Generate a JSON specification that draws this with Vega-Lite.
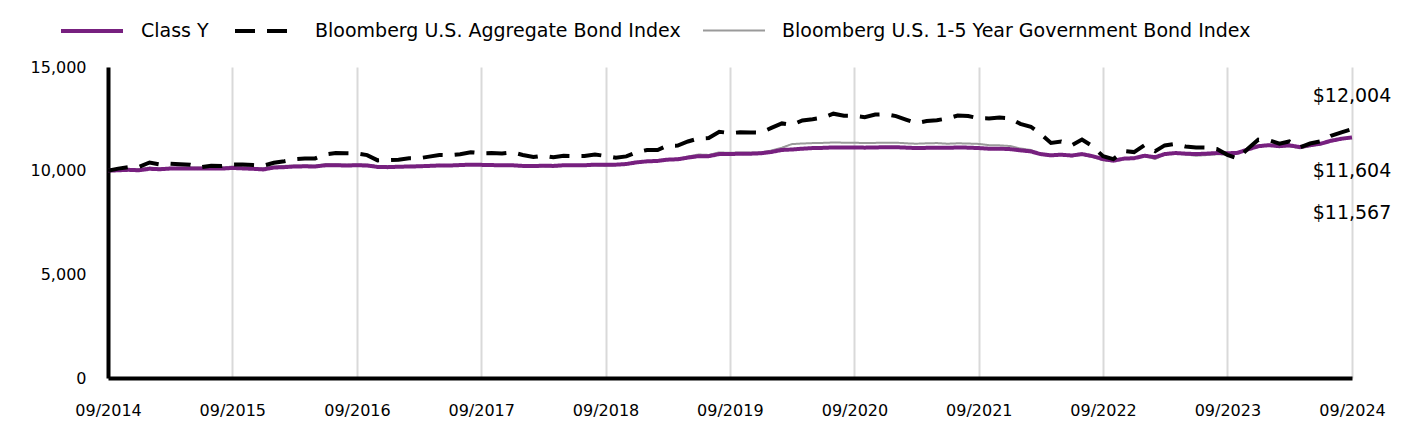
{
  "$schema": "https://vega.github.io/schema/vega-lite/v6.json",
  "width": 1244,
  "height": 311,
  "autosize": {"type": "none"},
  "padding": {"left": 108, "top": 67, "right": 64, "bottom": 66},
  "background": "white",
  "config": {"view": {"stroke": null}, "font": "DejaVu Sans", "text": {"font": "DejaVu Sans"}},
  "data": {"values": [
    {"d":"2014-09-01","cy":10000,"agg":10000,"gov":10000},
    {"d":"2014-10-01","cy":10020,"agg":10098,"gov":10040},
    {"d":"2014-11-01","cy":10040,"agg":10170,"gov":10080},
    {"d":"2014-12-01","cy":10020,"agg":10179,"gov":10070},
    {"d":"2015-01-01","cy":10090,"agg":10393,"gov":10150},
    {"d":"2015-02-01","cy":10070,"agg":10295,"gov":10110},
    {"d":"2015-03-01","cy":10100,"agg":10342,"gov":10140},
    {"d":"2015-04-01","cy":10110,"agg":10305,"gov":10150},
    {"d":"2015-05-01","cy":10110,"agg":10280,"gov":10160},
    {"d":"2015-06-01","cy":10100,"agg":10168,"gov":10150},
    {"d":"2015-07-01","cy":10110,"agg":10239,"gov":10160},
    {"d":"2015-08-01","cy":10100,"agg":10225,"gov":10150},
    {"d":"2015-09-01","cy":10130,"agg":10295,"gov":10200},
    {"d":"2015-10-01","cy":10110,"agg":10297,"gov":10170},
    {"d":"2015-11-01","cy":10090,"agg":10270,"gov":10130},
    {"d":"2015-12-01","cy":10060,"agg":10237,"gov":10110},
    {"d":"2016-01-01","cy":10150,"agg":10378,"gov":10200},
    {"d":"2016-02-01","cy":10170,"agg":10452,"gov":10230},
    {"d":"2016-03-01","cy":10200,"agg":10548,"gov":10250},
    {"d":"2016-04-01","cy":10210,"agg":10588,"gov":10250},
    {"d":"2016-05-01","cy":10200,"agg":10591,"gov":10240},
    {"d":"2016-06-01","cy":10260,"agg":10782,"gov":10320},
    {"d":"2016-07-01","cy":10260,"agg":10850,"gov":10310},
    {"d":"2016-08-01","cy":10250,"agg":10838,"gov":10290},
    {"d":"2016-09-01","cy":10260,"agg":10832,"gov":10300},
    {"d":"2016-10-01","cy":10250,"agg":10750,"gov":10290},
    {"d":"2016-11-01","cy":10180,"agg":10495,"gov":10210},
    {"d":"2016-12-01","cy":10170,"agg":10510,"gov":10210},
    {"d":"2017-01-01","cy":10190,"agg":10531,"gov":10220},
    {"d":"2017-02-01","cy":10200,"agg":10601,"gov":10230},
    {"d":"2017-03-01","cy":10210,"agg":10596,"gov":10240},
    {"d":"2017-04-01","cy":10230,"agg":10678,"gov":10260},
    {"d":"2017-05-01","cy":10250,"agg":10760,"gov":10280},
    {"d":"2017-06-01","cy":10250,"agg":10749,"gov":10270},
    {"d":"2017-07-01","cy":10270,"agg":10795,"gov":10290},
    {"d":"2017-08-01","cy":10290,"agg":10892,"gov":10320},
    {"d":"2017-09-01","cy":10280,"agg":10840,"gov":10290},
    {"d":"2017-10-01","cy":10270,"agg":10847,"gov":10280},
    {"d":"2017-11-01","cy":10260,"agg":10833,"gov":10250},
    {"d":"2017-12-01","cy":10260,"agg":10883,"gov":10250},
    {"d":"2018-01-01","cy":10230,"agg":10758,"gov":10200},
    {"d":"2018-02-01","cy":10220,"agg":10656,"gov":10190},
    {"d":"2018-03-01","cy":10240,"agg":10724,"gov":10210},
    {"d":"2018-04-01","cy":10230,"agg":10644,"gov":10190},
    {"d":"2018-05-01","cy":10260,"agg":10720,"gov":10230},
    {"d":"2018-06-01","cy":10260,"agg":10707,"gov":10230},
    {"d":"2018-07-01","cy":10260,"agg":10709,"gov":10220},
    {"d":"2018-08-01","cy":10290,"agg":10778,"gov":10260},
    {"d":"2018-09-01","cy":10280,"agg":10709,"gov":10240},
    {"d":"2018-10-01","cy":10290,"agg":10624,"gov":10260},
    {"d":"2018-11-01","cy":10320,"agg":10688,"gov":10300},
    {"d":"2018-12-01","cy":10400,"agg":10885,"gov":10420},
    {"d":"2019-01-01","cy":10450,"agg":11000,"gov":10460},
    {"d":"2019-02-01","cy":10470,"agg":10993,"gov":10470},
    {"d":"2019-03-01","cy":10530,"agg":11204,"gov":10550},
    {"d":"2019-04-01","cy":10550,"agg":11208,"gov":10560},
    {"d":"2019-05-01","cy":10630,"agg":11407,"gov":10680},
    {"d":"2019-06-01","cy":10700,"agg":11551,"gov":10780},
    {"d":"2019-07-01","cy":10700,"agg":11576,"gov":10760},
    {"d":"2019-08-01","cy":10800,"agg":11876,"gov":10880},
    {"d":"2019-09-01","cy":10800,"agg":11813,"gov":10860},
    {"d":"2019-10-01","cy":10820,"agg":11849,"gov":10880},
    {"d":"2019-11-01","cy":10820,"agg":11843,"gov":10870},
    {"d":"2019-12-01","cy":10840,"agg":11835,"gov":10880},
    {"d":"2020-01-01","cy":10900,"agg":12062,"gov":10970},
    {"d":"2020-02-01","cy":11000,"agg":12279,"gov":11110},
    {"d":"2020-03-01","cy":11020,"agg":12207,"gov":11280},
    {"d":"2020-04-01","cy":11060,"agg":12424,"gov":11310},
    {"d":"2020-05-01","cy":11090,"agg":12483,"gov":11330},
    {"d":"2020-06-01","cy":11100,"agg":12561,"gov":11340},
    {"d":"2020-07-01","cy":11120,"agg":12748,"gov":11360},
    {"d":"2020-08-01","cy":11120,"agg":12645,"gov":11350},
    {"d":"2020-09-01","cy":11120,"agg":12639,"gov":11350},
    {"d":"2020-10-01","cy":11110,"agg":12582,"gov":11330},
    {"d":"2020-11-01","cy":11120,"agg":12705,"gov":11340},
    {"d":"2020-12-01","cy":11130,"agg":12723,"gov":11350},
    {"d":"2021-01-01","cy":11130,"agg":12631,"gov":11350},
    {"d":"2021-02-01","cy":11110,"agg":12449,"gov":11320},
    {"d":"2021-03-01","cy":11090,"agg":12294,"gov":11300},
    {"d":"2021-04-01","cy":11100,"agg":12391,"gov":11320},
    {"d":"2021-05-01","cy":11110,"agg":12432,"gov":11330},
    {"d":"2021-06-01","cy":11100,"agg":12519,"gov":11300},
    {"d":"2021-07-01","cy":11120,"agg":12659,"gov":11320},
    {"d":"2021-08-01","cy":11110,"agg":12635,"gov":11310},
    {"d":"2021-09-01","cy":11090,"agg":12525,"gov":11290},
    {"d":"2021-10-01","cy":11060,"agg":12521,"gov":11230},
    {"d":"2021-11-01","cy":11060,"agg":12559,"gov":11220},
    {"d":"2021-12-01","cy":11040,"agg":12526,"gov":11190},
    {"d":"2022-01-01","cy":10980,"agg":12257,"gov":11070},
    {"d":"2022-02-01","cy":10930,"agg":12120,"gov":11000},
    {"d":"2022-03-01","cy":10800,"agg":11783,"gov":10780},
    {"d":"2022-04-01","cy":10740,"agg":11336,"gov":10700},
    {"d":"2022-05-01","cy":10770,"agg":11409,"gov":10770},
    {"d":"2022-06-01","cy":10730,"agg":11230,"gov":10690},
    {"d":"2022-07-01","cy":10800,"agg":11504,"gov":10780},
    {"d":"2022-08-01","cy":10700,"agg":11178,"gov":10660},
    {"d":"2022-09-01","cy":10560,"agg":10695,"gov":10500},
    {"d":"2022-10-01","cy":10480,"agg":10556,"gov":10480},
    {"d":"2022-11-01","cy":10580,"agg":10944,"gov":10560},
    {"d":"2022-12-01","cy":10600,"agg":10895,"gov":10600},
    {"d":"2023-01-01","cy":10720,"agg":11231,"gov":10700},
    {"d":"2023-02-01","cy":10650,"agg":10940,"gov":10560},
    {"d":"2023-03-01","cy":10800,"agg":11218,"gov":10790},
    {"d":"2023-04-01","cy":10850,"agg":11286,"gov":10850},
    {"d":"2023-05-01","cy":10820,"agg":11163,"gov":10780},
    {"d":"2023-06-01","cy":10800,"agg":11123,"gov":10720},
    {"d":"2023-07-01","cy":10820,"agg":11115,"gov":10750},
    {"d":"2023-08-01","cy":10850,"agg":11044,"gov":10790},
    {"d":"2023-09-01","cy":10840,"agg":10763,"gov":10800},
    {"d":"2023-10-01","cy":10860,"agg":10593,"gov":10830},
    {"d":"2023-11-01","cy":11030,"agg":11073,"gov":11010},
    {"d":"2023-12-01","cy":11180,"agg":11497,"gov":11180},
    {"d":"2024-01-01","cy":11230,"agg":11466,"gov":11250},
    {"d":"2024-02-01","cy":11180,"agg":11304,"gov":11160},
    {"d":"2024-03-01","cy":11220,"agg":11408,"gov":11180},
    {"d":"2024-04-01","cy":11140,"agg":11120,"gov":11080},
    {"d":"2024-05-01","cy":11230,"agg":11309,"gov":11180},
    {"d":"2024-06-01","cy":11300,"agg":11416,"gov":11270},
    {"d":"2024-07-01","cy":11440,"agg":11683,"gov":11430},
    {"d":"2024-08-01","cy":11540,"agg":11851,"gov":11530},
    {"d":"2024-09-01","cy":11604,"agg":12004,"gov":11567}
  ]},
  "encoding": {
    "x": {
      "field": "d", "type": "temporal", "title": null,
      "scale": {"type": "utc", "domain": [{"year": 2014, "month": 9, "date": 1, "utc": true}, {"year": 2024, "month": 9, "date": 1, "utc": true}]},
      "axis": {
        "values": [
          {"year": 2014, "month": 9, "date": 1, "utc": true},
          {"year": 2015, "month": 9, "date": 1, "utc": true},
          {"year": 2016, "month": 9, "date": 1, "utc": true},
          {"year": 2017, "month": 9, "date": 1, "utc": true},
          {"year": 2018, "month": 9, "date": 1, "utc": true},
          {"year": 2019, "month": 9, "date": 1, "utc": true},
          {"year": 2020, "month": 9, "date": 1, "utc": true},
          {"year": 2021, "month": 9, "date": 1, "utc": true},
          {"year": 2022, "month": 9, "date": 1, "utc": true},
          {"year": 2023, "month": 9, "date": 1, "utc": true},
          {"year": 2024, "month": 9, "date": 1, "utc": true}
        ],
        "labelExpr": "utcFormat(datum.value, '%m/%Y')",
        "labelFlush": false, "labelOverlap": false,
        "labelFont": "DejaVu Sans", "labelFontSize": 16, "labelColor": "#000000", "labelPadding": 24,
        "ticks": false, "domainColor": "#000000", "domainWidth": 4,
        "grid": true, "gridColor": "#d9d9d9", "gridWidth": 2
      }
    },
    "y": {
      "field": "value", "type": "quantitative", "title": null,
      "scale": {"domain": [0, 15000], "nice": false, "zero": true},
      "axis": {
        "values": [0, 5000, 10000, 15000],
        "labelExpr": "format(datum.value, ',')",
        "grid": false, "ticks": false,
        "domainColor": "#000000", "domainWidth": 4,
        "labelFont": "DejaVu Sans", "labelFontSize": 16, "labelColor": "#000000", "labelPadding": 22
      }
    }
  },
  "layer": [
    {
      "transform": [{"fold": ["cy", "agg", "gov"], "as": ["series", "value"]}],
      "encoding": {
        "color": {
          "field": "series", "type": "nominal",
          "scale": {"domain": ["cy", "agg", "gov"], "range": ["#77207f", "#000000", "#9a9a9a"]},
          "legend": {
            "title": null, "orient": "none", "direction": "horizontal",
            "legendX": -49, "legendY": -69, "padding": 0,
            "symbolType": "stroke", "symbolSize": 3844,
            "labelFont": "DejaVu Sans", "labelFontSize": 19, "labelColor": "#000000", "labelOffset": 16,
            "labelLimit": 0, "columnPadding": 18,
            "labelExpr": "datum.label == 'cy' ? 'Class Y' : datum.label == 'agg' ? 'Bloomberg U.S. Aggregate Bond Index' : 'Bloomberg U.S. 1-5 Year Government Bond Index'"
          }
        },
        "strokeDash": {
          "field": "series", "type": "nominal",
          "scale": {"domain": ["cy", "agg", "gov"], "range": [[1, 0], [20, 12], [1, 0]]}
        },
        "strokeWidth": {
          "field": "series", "type": "nominal",
          "scale": {"type": "ordinal", "domain": ["cy", "agg", "gov"], "range": [4, 4, 2]}
        }
      },
      "layer": [
        {"transform": [{"filter": "datum.series == 'gov'"}], "mark": {"type": "line"}},
        {"transform": [{"filter": "datum.series == 'cy'"}], "mark": {"type": "line"}},
        {"transform": [{"filter": "datum.series == 'agg'"}], "mark": {"type": "line"}}
      ]
    },
    {
      "data": {"values": [{"d": "2024-09-01", "value": 12004, "t": "$12,004"}]},
      "mark": {"type": "text", "font": "DejaVu Sans", "fontSize": 19, "align": "center", "baseline": "middle", "dy": -33, "color": "#000000"},
      "encoding": {"text": {"field": "t"}}
    },
    {
      "data": {"values": [{"d": "2024-09-01", "value": 11604, "t": "$11,604"}]},
      "mark": {"type": "text", "font": "DejaVu Sans", "fontSize": 19, "align": "center", "baseline": "middle", "dy": 34, "color": "#000000"},
      "encoding": {"text": {"field": "t"}}
    },
    {
      "data": {"values": [{"d": "2024-09-01", "value": 11567, "t": "$11,567"}]},
      "mark": {"type": "text", "font": "DejaVu Sans", "fontSize": 19, "align": "center", "baseline": "middle", "dy": 75, "color": "#000000"},
      "encoding": {"text": {"field": "t"}}
    }
  ]
}
